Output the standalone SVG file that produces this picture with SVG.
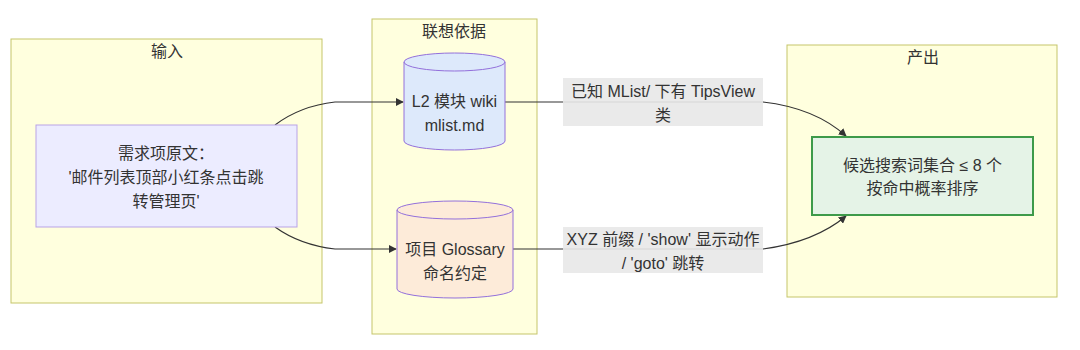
<svg xmlns="http://www.w3.org/2000/svg" width="1080" height="350" viewBox="0 0 1080 350">
<defs>
<style>
text{font-family:"Liberation Sans","Noto Sans CJK SC",sans-serif;font-size:16px;fill:#333;text-anchor:middle;dominant-baseline:central}
.cluster{fill:#ffffde;stroke:#c5c56a;stroke-width:1}
.edge{fill:none;stroke:#333;stroke-width:1.2}
.lbl{fill:#e8e8e8;opacity:0.9}
</style>
<marker id="arr" viewBox="0 0 10 10" refX="9" refY="5" markerWidth="8" markerHeight="8" orient="auto-start-reverse" markerUnits="userSpaceOnUse">
<path d="M0,0 L10,5 L0,10 z" fill="#333"/>
</marker>
</defs>
<rect width="1080" height="350" fill="#fff"/>
<g id="cluster-input">
<rect class="cluster" x="11" y="39" width="311" height="264"/>
<text x="167" y="51">输入</text>
</g>
<g id="cluster-basis">
<rect class="cluster" x="372" y="19" width="165" height="315"/>
<text x="454" y="31">联想依据</text>
</g>
<g id="cluster-output">
<rect class="cluster" x="787" y="45" width="270" height="252"/>
<text x="923" y="57">产出</text>
</g>
<g id="connectors">
<path class="edge" d="M275,125 Q300,106 335,102 L403,102" marker-end="url(#arr)"/>
<path class="edge" d="M275,227 Q300,245 335,249 L396,249" marker-end="url(#arr)"/>
<path class="edge" d="M505,102 L763,102 Q815,108 846,136" marker-end="url(#arr)"/>
<path class="edge" d="M513,249 L763,249 Q815,242 846,216" marker-end="url(#arr)"/>
</g>
<g id="node-input">
<rect x="36" y="125" width="261" height="102" fill="#ececff" stroke="#b9a3e6" stroke-width="1"/>
<text x="166" y="153">需求项原文：</text>
<text x="166" y="177">'邮件列表顶部小红条点击跳</text>
<text x="166" y="201">转管理页'</text>
</g>
<g id="node-wiki">
<path d="M404,62 L404,141 A50.5,9 0 0 0 505,141 L505,62 A50.5,9 0 0 0 404,62 A50.5,9 0 0 0 505,62" fill="#dde9fb" stroke="#9370db" stroke-width="1"/>
<text x="454.5" y="101">L2 模块 wiki</text>
<text x="454.5" y="125">mlist.md</text>
</g>
<g id="node-glossary">
<path d="M397,210 L397,289 A58,9 0 0 0 513,289 L513,210 A58,9 0 0 0 397,210 A58,9 0 0 0 513,210" fill="#fdebd9" stroke="#9370db" stroke-width="1"/>
<text x="455" y="249">项目 Glossary</text>
<text x="455" y="273">命名约定</text>
</g>
<g id="label-1">
<rect class="lbl" x="563" y="78" width="200" height="48"/>
<text x="663" y="91">已知 MList/ 下有 TipsView</text>
<text x="663" y="115">类</text>
</g>
<g id="label-2">
<rect class="lbl" x="563" y="227" width="200" height="46"/>
<text x="663" y="239">XYZ 前缀 / 'show' 显示动作</text>
<text x="663" y="263">/ 'goto' 跳转</text>
</g>
<g id="node-output">
<rect x="812" y="137" width="221" height="78" fill="#e5f3e7" stroke="#3e9a4a" stroke-width="2"/>
<text x="922.5" y="165">候选搜索词集合 ≤ 8 个</text>
<text x="922.5" y="188">按命中概率排序</text>
</g>
</svg>
